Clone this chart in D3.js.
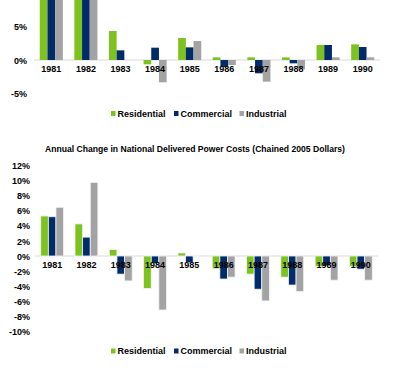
<!DOCTYPE html>
<html><head><meta charset="utf-8">
<script src="https://cdn.jsdelivr.net/npm/d3@7"></script>
<style>
html,body{margin:0;padding:0;background:#fff;}
svg{display:block;font-family:"Liberation Sans",Arial,sans-serif;}
</style></head>
<body><svg id="c" width="394" height="370"></svg>
<script>
const years = ["1981","1982","1983","1984","1985","1986","1987","1988","1989","1990"];
const seriesNames = ["Residential","Commercial","Industrial"];
const colors = ["#7dc21e","#002d6a","#a3a3a3"];

// Upper chart (cropped at top; 1981/1982 bars run off the image)
const topResidential = [15.0, 10.5, 4.35, -0.65, 3.3, 0.4, 0.4, 0.4, 2.25, 2.35];
const topCommercial  = [14.9, 10.0, 1.45, 1.85, 1.9, -1.05, -2.0, -0.5, 2.25, 1.95];
const topIndustrial  = [16.5, 16.0, 0.0, -3.35, 2.85, -0.75, -3.25, -1.4, 0.4, 0.4];
const topTicks = [5, 0, -5];

// Lower chart: Annual Change in National Delivered Power Costs (Chained 2005 Dollars)
const botResidential = [5.3, 4.25, 0.85, -4.3, 0.4, -1.7, -2.4, -2.8, -1.4, -1.4];
const botCommercial  = [5.2, 2.5, -2.4, -1.0, -0.9, -3.05, -4.4, -3.85, -1.3, -1.75];
const botIndustrial  = [6.45, 9.75, -3.3, -7.15, -0.1, -2.8, -5.95, -4.7, -3.2, -3.2];
const botTicks = [12, 10, 8, 6, 4, 2, 0, -2, -4, -6, -8, -10];

const title = "Annual Change in National Delivered Power Costs (Chained 2005 Dollars)";

const svg = d3.select("#c");
const font = "bold 9px 'Liberation Sans', Arial, sans-serif";

function drawChart(cfg){
  const g = svg.append("g");
  const x = d3.scaleBand().domain(years).range([cfg.x0, cfg.x1]).paddingInner(0).paddingOuter(0);
  const inner = d3.scaleBand().domain(seriesNames).range([0, x.bandwidth()]).paddingOuter(0.75).paddingInner(cfg.innerPad);
  const y = d3.scaleLinear().domain(cfg.domain).range(cfg.range);
  const series = [cfg.res, cfg.com, cfg.ind];

  // zero line
  g.append("line").attr("x1", cfg.x0).attr("x2", cfg.x1)
    .attr("y1", y(0)).attr("y2", y(0)).attr("stroke", "#d9d9d9").attr("stroke-width", 1);

  series.forEach((vals, si) => {
    g.append("g").selectAll("rect").data(vals).join("rect")
      .attr("x", (d,i) => x(years[i]) + inner(seriesNames[si]))
      .attr("width", inner.bandwidth())
      .attr("y", d => Math.max(0, Math.min(y(d), y(0))))
      .attr("height", d => Math.abs(Math.max(0, Math.min(y(d), y(0))) - (d < 0 ? y(d) : y(0))))
      .attr("fill", colors[si])
      .attr("stroke", cfg.stroke || "none").attr("stroke-width", cfg.stroke ? 0.8 : 0);
  });

  // y axis
  const ya = d3.axisLeft(y).tickValues(cfg.ticks).tickSize(0).tickPadding(0).tickFormat(d => d + "%");
  const yg = g.append("g").attr("transform", `translate(${cfg.labelX},0)`).call(ya);
  yg.select(".domain").remove();
  yg.selectAll("text").style("font", font).attr("fill", "#000").attr("dy", "0.35em");

  // x axis labels next to zero line
  const xa = d3.axisBottom(x).tickSize(0).tickPadding(6);
  const xg = g.append("g").attr("transform", `translate(0,${y(0)})`).call(xa);
  xg.select(".domain").remove();
  xg.selectAll("text").style("font", font).attr("fill", "#000");

  // legend
  const lg = g.append("g").attr("transform", `translate(0,${cfg.legendY})`);
  const lx = [111, 174, 239.5];
  seriesNames.forEach((n, i) => {
    lg.append("rect").attr("x", lx[i]).attr("y", -2.5).attr("width", 4.5).attr("height", 5).attr("fill", colors[i]);
    lg.append("text").attr("x", lx[i] + 6.5).attr("y", 0).attr("dy", "0.35em")
      .style("font", font).attr("fill", "#000").text(n);
  });
}

drawChart({
  x0: 34, x1: 380, domain: [-5, 5], range: [93.3, 26.7],
  res: topResidential, com: topCommercial, ind: topIndustrial,
  ticks: topTicks, labelX: 27, legendY: 113.5, innerPad: 0
});

drawChart({
  x0: 35, x1: 378, domain: [-10, 12], range: [331.5, 165.4],
  res: botResidential, com: botCommercial, ind: botIndustrial,
  ticks: botTicks, labelX: 30, legendY: 351, innerPad: 0, stroke: "#f4f4f4"
});

const t = svg.append("text").attr("x", 195).attr("y", 148.5).attr("dy", "0.35em")
  .attr("text-anchor", "middle").style("font", "bold 8px 'Liberation Sans', Arial, sans-serif")
  .attr("fill", "#000").text(title);
const w = t.node().getComputedTextLength();
if (w > 0) t.style("font-size", (8 * 300 / w).toFixed(2) + "px");
</script></body></html>
